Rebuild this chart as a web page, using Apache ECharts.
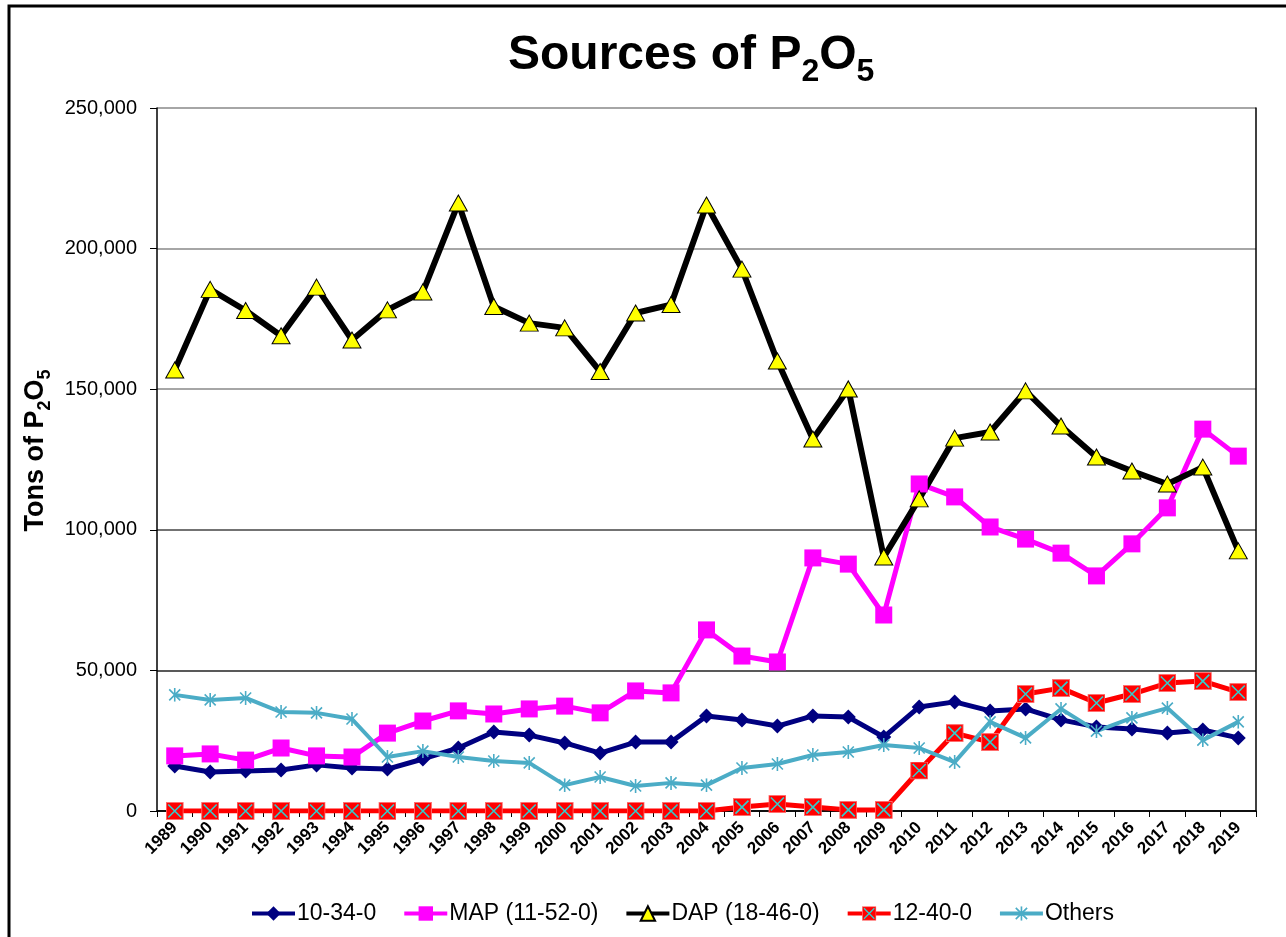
<!DOCTYPE html>
<html>
<head>
<meta charset="utf-8">
<script src="https://cdn.jsdelivr.net/npm/echarts@6/dist/echarts.min.js"></script>
<style>
html,body{margin:0;padding:0;background:#fff;}
#chart{width:1286px;height:937px;}
</style>
</head>
<body>
<div id="chart"></div>
<script>
const years = ['1989','1990','1991','1992','1993','1994','1995','1996','1997','1998','1999','2000','2001','2002','2003','2004','2005','2006','2007','2008','2009','2010','2011','2012','2013','2014','2015','2016','2017','2018','2019'];
const s10340 = [16000,13900,14200,14600,16400,15300,14900,18500,22400,28100,27000,24200,20600,24500,24500,33800,32400,30200,33800,33400,26300,37000,38800,35600,36300,32400,29900,29200,27700,28800,26000];
const sMAP = [19600,20300,18100,22400,19600,19200,27700,32000,35600,34500,36300,37300,34900,42700,42000,64400,55100,53000,90000,87800,69700,116300,111700,101000,96700,91700,83600,95000,107800,135800,126200];
const sDAP = [156800,185500,178000,169000,186300,167500,178200,184600,216200,179400,173500,171800,156300,177100,180100,215500,192700,160000,132300,150100,90300,111000,132600,134800,149400,136900,125900,120900,116300,122300,92500];
const s12400 = [0,0,0,0,0,0,0,0,0,0,0,0,0,0,0,0,1400,2500,1400,400,400,14400,27700,24500,41600,43700,38400,41600,45500,46200,42300];
const sOthers = [41300,39500,40200,35200,34900,32700,19200,21300,19200,17800,17100,9200,12100,8900,10000,9200,15300,16700,19900,21000,23500,22400,17400,31700,26000,36300,28400,33100,36600,25200,31700];
const seriesNames = ['10-34-0','MAP (11-52-0)','DAP (18-46-0)','12-40-0','Others'];
const yMin = 0, yMax = 250000, yStep = 50000;

const FONT = "'Liberation Sans', Arial, sans-serif";
const svgX = "<svg xmlns='http://www.w3.org/2000/svg' width='18' height='18'><rect x='0.5' y='0.5' width='17' height='17' fill='#FF0000' stroke='#FF7070' stroke-width='1'/><path d='M2.5 2.5L15.5 15.5M15.5 2.5L2.5 15.5' stroke='#33CCCC' stroke-width='1.6'/></svg>";
const svgStar = "<svg xmlns='http://www.w3.org/2000/svg' width='14' height='14'><path d='M1.5 1.5L12.5 12.5M12.5 1.5L1.5 12.5M7 0L7 14' stroke='#4BACC6' stroke-width='1.6'/></svg>";
const symX = 'image://data:image/svg+xml;charset=utf-8,' + encodeURIComponent(svgX);
const symStar = 'image://data:image/svg+xml;charset=utf-8,' + encodeURIComponent(svgStar);

const chart = echarts.init(document.getElementById('chart'), null, {renderer:'canvas'});
const option = {
  animation: false,
  backgroundColor: '#fff',
  textStyle: {fontFamily: FONT},
  graphic: [
    {type:'rect', shape:{x:9, y:6, width:1300, height:960}, style:{fill:'none', stroke:'#000', lineWidth:3}, silent:true}
  ],
  title: {
    text: '{a|Sources of P}{s|2}{a|O}{s|5}',
    left: 503, top: 27,
    textStyle: {
      rich: {
        a: {fontFamily: FONT, fontSize: 48, fontWeight: 'bold', color: '#000', lineHeight: 56, verticalAlign: 'top'},
        s: {fontFamily: FONT, fontSize: 32, fontWeight: 'bold', color: '#000', lineHeight: 30, verticalAlign: 'bottom'}
      }
    }
  },
  legend: {
    left: 245, top: 897,
    itemWidth: 43, itemHeight: 18, itemGap: 26,
    textStyle: {fontFamily: FONT, fontSize: 23, color: '#000', padding:[0,0,0,-3]},
    lineStyle: {width: 4},
    data: seriesNames
  },
  grid: {left: 157, right: 30, top: 108, bottom: 126, containLabel: false},
  xAxis: {
    type: 'category', data: years, boundaryGap: true,
    axisLine: {show: true, lineStyle: {color: '#000', width: 1.5}},
    axisTick: {show: true, length: 6, lineStyle: {color: '#000'}},
    axisLabel: {rotate: 45, fontFamily: FONT, fontSize: 17, fontWeight: 'bold', color: '#000', margin: 14, interval: 0}
  },
  yAxis: [{
    type: 'value', min: yMin, max: yMax, interval: yStep,
    name: '{a|Tons of P}{s|2}{a|O}{s|5}',
    nameLocation: 'middle', nameGap: 95, nameRotate: 90,
    nameTextStyle: {
      padding: [0, 0, 0, 18],
      rich: {
        a: {fontFamily: FONT, fontSize: 27, fontWeight: 'bold', color: '#000', lineHeight: 32, verticalAlign: 'top'},
        s: {fontFamily: FONT, fontSize: 18, fontWeight: 'bold', color: '#000', lineHeight: 16, verticalAlign: 'bottom'}
      }
    },
    axisLine: {show: true, lineStyle: {color: '#000', width: 1.5}},
    axisTick: {show: true, length: 7, lineStyle: {color: '#000'}},
    axisLabel: {fontFamily: FONT, fontSize: 20, color: '#000', margin: 20,
      formatter: v => v.toLocaleString('en-US')},
    splitLine: {show: true, lineStyle: {color: ['#000','#222','#444','#888','#888','#888'], width: 1.5}}
  }, {
    type: 'value', min: yMin, max: yMax, interval: yStep, position: 'right',
    axisLine: {show: true, lineStyle: {color: '#000', width: 1.5}},
    axisTick: {show: false}, axisLabel: {show: false}, splitLine: {show: false}
  }],
  series: [
    {name: seriesNames[0], type: 'line', data: s10340, symbol: 'diamond', symbolSize: 15,
      lineStyle: {color: '#000080', width: 5}, itemStyle: {color: '#000080'}},
    {name: seriesNames[1], type: 'line', data: sMAP, symbol: 'rect', symbolSize: 17,
      lineStyle: {color: '#FF00FF', width: 5}, itemStyle: {color: '#FF00FF'}},
    {name: seriesNames[2], type: 'line', data: sDAP, symbol: 'triangle', symbolSize: [18, 16],
      lineStyle: {color: '#000', width: 6}, itemStyle: {color: '#FFFF00', borderColor: '#000', borderWidth: 1}},
    {name: seriesNames[3], type: 'line', data: s12400, symbol: symX, symbolSize: 18,
      lineStyle: {color: '#FF0000', width: 5}, itemStyle: {color: '#FF0000'}},
    {name: seriesNames[4], type: 'line', data: sOthers, symbol: symStar, symbolSize: 14,
      lineStyle: {color: '#4BACC6', width: 4}, itemStyle: {color: '#4BACC6'}}
  ]
};
chart.setOption(option);
</script>
</body>
</html>
